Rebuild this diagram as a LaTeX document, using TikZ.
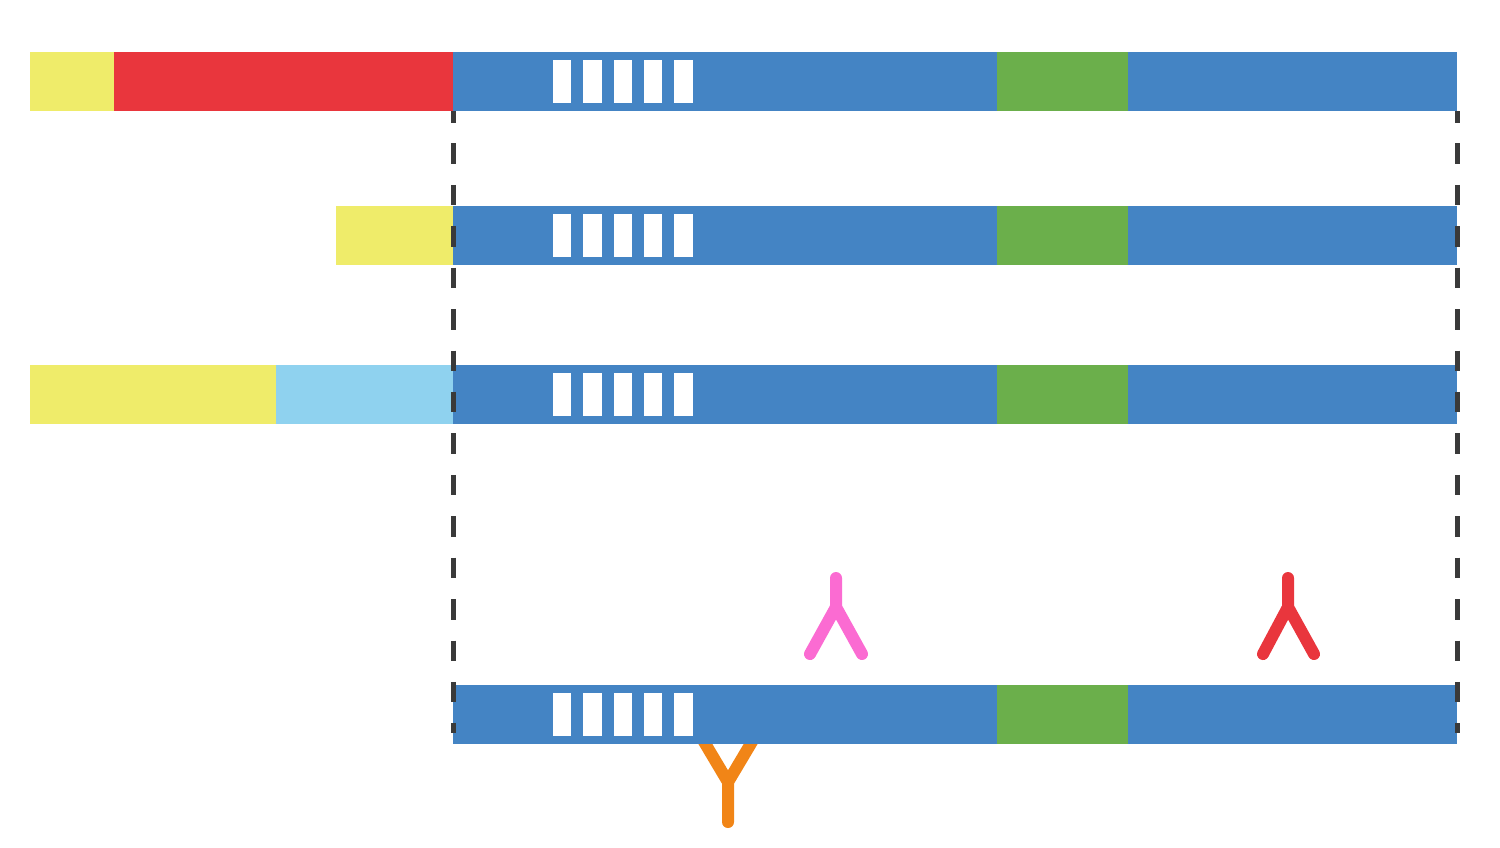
\documentclass[tikz,border=0pt]{standalone}
\usepackage[rgb]{xcolor}
\usepackage{tikz}

\definecolor{cyellow}{HTML}{EFEC6A}
\definecolor{cred}{HTML}{E9363D}
\definecolor{cblue}{HTML}{4484C4}
\definecolor{cgreen}{HTML}{6BAF4B}
\definecolor{clight}{HTML}{8FD2EF}
\definecolor{cpink}{HTML}{FB6BD2}
\definecolor{corange}{HTML}{F18517}
\definecolor{cguide}{HTML}{3A3A3A}

\tikzset{
  antibody/.style={line width=0.12cm, line cap=round, line join=round},
  guide/.style={cguide, line width=0.05cm, dash pattern=on 0.205cm off 0.209cm, dash phase=0.09cm}
}

\begin{document}
\begin{tikzpicture}[x=0.01cm, y=-0.01cm]

\useasboundingbox (0,0) rectangle (1500,847);

% antibodies
\draw[antibody, cpink] (836,578) -- (836,607) coordinate (pinkfork) -- (810,654)
 (pinkfork) -- (862,654);
\draw[antibody, cred] (1288,578) -- (1288,607) coordinate (redfork) -- (1263,654)
 (redfork) -- (1314,654);
\draw[antibody, corange] (728,822) -- (728,782) coordinate (orangefork) -- (703,740)
 (orangefork) -- (753,740);

% common part of every row
\foreach \top in {52,206,365,685}{
  \fill[cblue] (453,\top) rectangle ++(544,59);
  \fill[cgreen] (997,\top) rectangle ++(131,59);
  \fill[cblue] (1128,\top) rectangle ++(329,59);
  \foreach \x in {553,583.3,613.6,643.9,674.2}
    \fill[white] (\x,\top+8) rectangle ++(18.3,43);
}

% leading parts
\fill[cyellow] (30,52) rectangle (114,111);
\fill[cred] (114,52) rectangle (453,111);
\fill[cyellow] (336,206) rectangle (453,265);
\fill[cyellow] (30,365) rectangle (276,424);
\fill[clight] (276,365) rectangle (453,424);

% guides
\coordinate (lefttop) at (453,111);
\coordinate (leftbot) at (453,733);
\coordinate (righttop) at (1457,111);
\coordinate (rightbot) at (1457,733);
\draw[guide] (lefttop) -- (leftbot);
\draw[guide] (righttop) -- (rightbot);

\end{tikzpicture}
\end{document}
